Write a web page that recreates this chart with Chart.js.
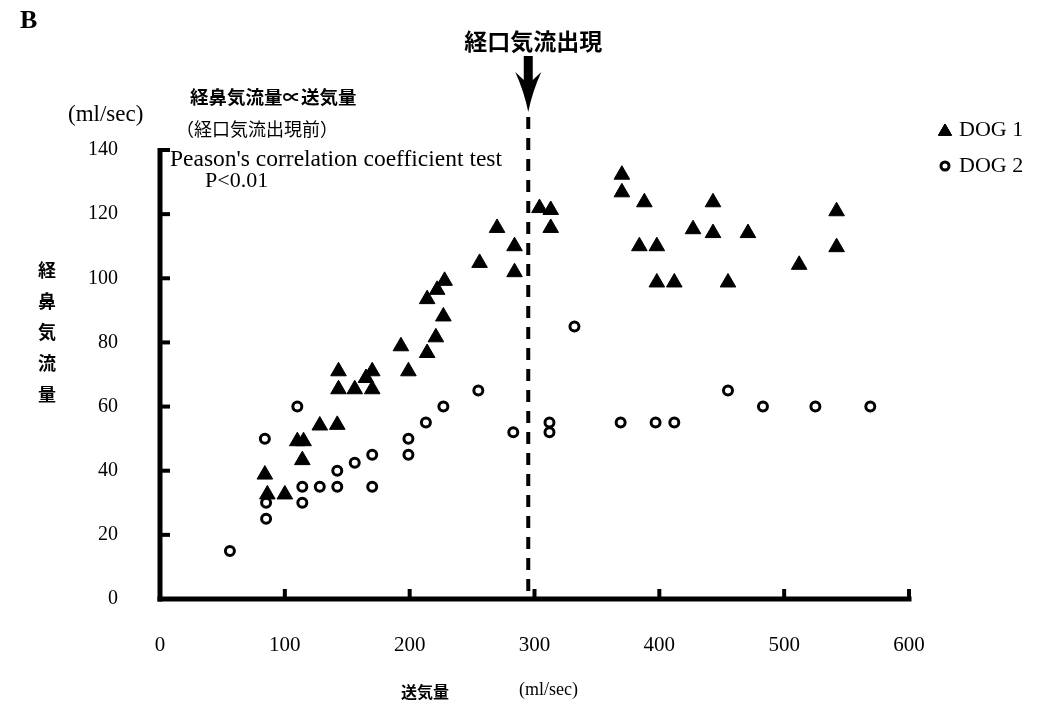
<!DOCTYPE html>
<html>
<head>
<meta charset="utf-8">
<script src="https://cdn.jsdelivr.net/npm/chart.js@4.4.0/dist/chart.umd.min.js"></script>
<style>
  html, body { margin: 0; padding: 0; background: #fff; }
  #wrap { width: 1062px; height: 710px; position: relative; }
</style>
</head>
<body>
<div id="wrap"><canvas id="c" width="1062" height="710"></canvas></div>
<script>
// Axis ticks
const xTicks = [0, 100, 200, 300, 400, 500, 600];
const yTicks = [0, 20, 40, 60, 80, 100, 120, 140];

// DOG 1: air supply (ml/sec) vs nasal airflow (ml/sec)
const dog1X = [84, 86, 100, 110, 115, 114, 128, 142, 143, 143, 156, 165, 170, 170, 193, 199, 214, 221, 227, 214, 222, 228,
               256, 270, 284, 284, 304, 313, 313, 370, 370, 388, 443, 427, 443, 471, 542, 542, 384, 398, 512, 398, 412, 455];
const dog1Y = [38.8, 32.6, 32.6, 49.2, 49.2, 43.3, 54.1, 54.3, 71.0, 65.4, 65.4, 68.9, 71.0, 65.4, 78.8, 71.0, 76.7, 81.6, 88.1, 93.5, 96.4, 99.2,
               104.8, 115.7, 110.0, 101.9, 121.9, 121.3, 115.7, 132.3, 126.8, 123.7, 123.7, 115.3, 114.1, 114.1, 120.9, 109.7, 110.0, 110.0, 104.2, 98.7, 98.7, 98.7];

// DOG 2
const dog2X = [56, 84, 110, 85, 85, 114, 114, 128, 142, 142, 156, 170, 170, 199, 199, 213, 227, 255, 283, 312, 312, 332, 369, 397, 412, 455, 483, 525, 569];
const dog2Y = [15, 50, 60, 30, 25, 35, 30, 35, 35, 40, 42.5, 45, 35, 45, 50, 55, 60, 65, 52, 55, 52, 85, 55, 55, 55, 65, 60, 60, 60];

// Air supply at which oral airflow appears
const onsetX = 295;

const serif = "'Liberation Serif', 'Times New Roman', serif";
const gothic = "'Noto Sans CJK JP', sans-serif";

const toPoints = (xs, ys) => xs.map((x, i) => ({ x: x, y: ys[i] }));

// Axes with inward ticks, onset marker, annotations and legend
const framePlugin = {
  id: 'frame',
  beforeDatasetsDraw(chart) {
    const ctx = chart.ctx;
    const xs = chart.scales.x, ys = chart.scales.y;
    const x0 = xs.getPixelForValue(0), x1 = xs.getPixelForValue(600);
    const y0 = ys.getPixelForValue(0), y1 = ys.getPixelForValue(140);
    ctx.save();
    ctx.fillStyle = '#000';
    // y axis line and ticks
    ctx.fillRect(x0 - 2.5, y1 - 2, 5, y0 - y1 + 4.5);
    yTicks.forEach(v => {
      const py = ys.getPixelForValue(v);
      ctx.fillRect(x0, py - 2, 10, 4);
    });
    // x axis line and ticks
    ctx.fillRect(x0 - 2.5, y0 - 2.5, x1 - x0 + 5, 5);
    xTicks.forEach(v => {
      if (v === 0) return;
      const px = xs.getPixelForValue(v);
      ctx.fillRect(px - 2, y0 - 10, 4, 10);
    });
    // dashed onset line
    const ox = xs.getPixelForValue(onsetX);
    ctx.strokeStyle = '#000';
    ctx.lineWidth = 4;
    ctx.setLineDash([12, 9]);
    ctx.beginPath();
    ctx.moveTo(ox, 117);
    ctx.lineTo(ox, y0);
    ctx.stroke();
    ctx.setLineDash([]);
    // arrow
    ctx.beginPath();
    ctx.moveTo(ox - 4.5, 56);
    ctx.lineTo(ox + 4.5, 56);
    ctx.lineTo(ox + 4.5, 80);
    ctx.lineTo(ox + 13, 72);
    ctx.quadraticCurveTo(ox + 4, 92, ox, 112);
    ctx.quadraticCurveTo(ox - 4, 92, ox - 13, 72);
    ctx.lineTo(ox - 4.5, 80);
    ctx.closePath();
    ctx.fill();
    ctx.restore();
  },
  afterDraw(chart) {
    const ctx = chart.ctx;
    const xs = chart.scales.x;
    const ox = xs.getPixelForValue(onsetX);
    ctx.save();
    ctx.fillStyle = '#000';
    ctx.textBaseline = 'middle';

    ctx.textAlign = 'left';
    ctx.font = 'bold 26px ' + serif;
    ctx.fillText('B', 20, 21);

    ctx.textAlign = 'center';
    ctx.font = 'bold 23px ' + gothic;
    ctx.fillText('経口気流出現', ox + 5, 41);

    ctx.textAlign = 'left';
    ctx.font = 'bold 18.5px ' + gothic;
    ctx.fillText('経鼻気流量∝送気量', 190, 97);
    ctx.font = '18px ' + gothic;
    ctx.fillText('（経口気流出現前）', 176, 129);

    ctx.font = '23px ' + serif;
    ctx.fillText('(ml/sec)', 68, 115);
    ctx.font = '23.5px ' + serif;
    ctx.fillText("Peason's correlation coefficient test", 170, 160);
    ctx.font = '22px ' + serif;
    ctx.fillText('P<0.01', 205, 181);

    // vertical y-axis title
    ctx.textAlign = 'center';
    ctx.font = 'bold 18px ' + gothic;
    const yt = ['経', '鼻', '気', '流', '量'];
    yt.forEach((ch, i) => ctx.fillText(ch, 47, 270 + i * 31));

    // x-axis title
    ctx.font = 'bold 16px ' + gothic;
    ctx.fillText('送気量', 425, 692);
    ctx.font = '18px ' + serif;
    ctx.textAlign = 'left';
    ctx.fillText('(ml/sec)', 519, 690);

    // legend
    const items = [
      { ds: chart.data.datasets[0], y: 130 },
      { ds: chart.data.datasets[1], y: 166 }
    ];
    items.forEach(it => {
      const ds = it.ds;
      Chart.helpers.drawPoint(ctx, {
        pointStyle: ds.pointStyle,
        radius: ds.pointStyle === 'triangle' ? 7.5 : 4,
        borderWidth: ds.pointBorderWidth
      }, 945, it.y + (ds.pointStyle === 'triangle' ? 1.5 : 0));
      ctx.fillStyle = ds.pointBackgroundColor;
      ctx.strokeStyle = ds.pointBorderColor;
      ctx.lineWidth = ds.pointBorderWidth;
      ctx.fill();
      ctx.stroke();
      ctx.fillStyle = '#000';
      ctx.font = '22px ' + serif;
      ctx.textAlign = 'left';
      ctx.fillText(ds.label, 959, it.y);
    });
    ctx.restore();
  }
};

new Chart(document.getElementById('c'), {
  type: 'scatter',
  data: {
    datasets: [
      {
        label: 'DOG 1',
        data: toPoints(dog1X, dog1Y),
        pointStyle: 'triangle',
        pointRadius: 9,
        pointHoverRadius: 9,
        pointBackgroundColor: '#000',
        pointBorderColor: '#000',
        pointBorderWidth: 1
      },
      {
        label: 'DOG 2',
        data: toPoints(dog2X, dog2Y),
        pointStyle: 'circle',
        pointRadius: 4.5,
        pointHoverRadius: 4.5,
        pointBackgroundColor: '#fff',
        pointBorderColor: '#000',
        pointBorderWidth: 3
      }
    ]
  },
  options: {
    responsive: false,
    animation: false,
    devicePixelRatio: 1,
    layout: { padding: { left: 0, right: 153, top: 150, bottom: 0 } },
    plugins: { legend: { display: false }, tooltip: { enabled: false } },
    scales: {
      x: {
        type: 'linear',
        position: 'bottom',
        min: 0, max: 600,
        afterBuildTicks: s => { s.ticks = xTicks.map(v => ({ value: v })); },
        afterFit: s => { s.height = 111; },
        grid: { display: false, drawTicks: false },
        border: { display: false },
        ticks: { color: '#000', font: { family: serif, size: 21 }, padding: 34, maxRotation: 0, autoSkip: false }
      },
      y: {
        type: 'linear',
        position: 'left',
        min: 0, max: 140,
        afterBuildTicks: s => { s.ticks = yTicks.map(v => ({ value: v })); },
        afterFit: s => { s.width = 160; },
        grid: { display: false, drawTicks: false },
        border: { display: false },
        ticks: { color: '#000', font: { family: serif, size: 20 }, padding: 42, autoSkip: false }
      }
    }
  },
  plugins: [framePlugin]
});
</script>
</body>
</html>
